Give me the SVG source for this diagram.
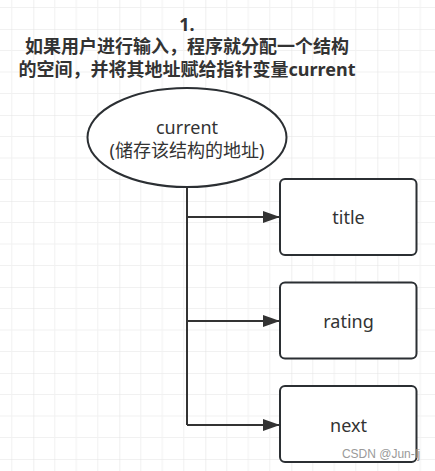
<svg xmlns="http://www.w3.org/2000/svg" width="435" height="471" viewBox="0 0 435 471">
<defs>
<pattern id="grid" patternUnits="userSpaceOnUse" x="33.3" y="29" width="86" height="86">
<path d="M21.5 0V86M43 0V86M64.5 0V86M0 21.5H86M0 43H86M0 64.5H86" stroke="#f1f1f1" stroke-width="1" fill="none"/>
<path d="M0 0V86M0 0H86" stroke="#e4e4e4" stroke-width="1.2" fill="none"/>
</pattern>
<marker id="arr" markerWidth="18" markerHeight="12" refX="17" refY="6" orient="auto" markerUnits="userSpaceOnUse">
<path d="M0 0L17 6L0 12Z" fill="#333"/>
</marker>
</defs>
<style>
.node{fill:#fff;stroke:#2b2f33;stroke-width:2}
.lbl{font-family:"Noto Sans","Noto Sans CJK SC",sans-serif;font-size:18px;fill:#333;text-anchor:middle}
.head{font-family:"Noto Sans","Noto Sans CJK SC",sans-serif;font-size:18px;font-weight:bold;fill:#333;text-anchor:middle}
.edge{fill:none;stroke:#333;stroke-width:2}
</style>
<rect width="435" height="471" fill="#fff"/>
<rect width="435" height="471" fill="url(#grid)"/>
<g id="heading">
<text class="head" x="187" y="31">1.</text>
<text class="head" x="187" y="53">如果用户进行输入，程序就分配一个结构</text>
<text class="head" x="187" y="76">的空间，并将其地址赋给指针变量current</text>
</g>
<g id="connectors">
<path class="edge" d="M187 187V425"/>
<path class="edge" d="M187 217H280" marker-end="url(#arr)"/>
<path class="edge" d="M187 321H280" marker-end="url(#arr)"/>
<path class="edge" d="M187 425H280" marker-end="url(#arr)"/>
</g>
<g id="current">
<ellipse class="node" cx="187" cy="137.5" rx="99.5" ry="49.5"/>
<text class="lbl" x="187" y="134">current</text>
<text class="lbl" x="187" y="157">(储存该结构的地址)</text>
</g>
<g id="title">
<rect class="node" x="280" y="179" width="136.5" height="76" rx="5"/>
<text class="lbl" x="348.5" y="224">title</text>
</g>
<g id="rating">
<rect class="node" x="280" y="282.5" width="136.5" height="76" rx="5"/>
<text class="lbl" x="348.5" y="328">rating</text>
</g>
<g id="next">
<rect class="node" x="280" y="386" width="136.5" height="76" rx="5"/>
<text class="lbl" x="348.5" y="432">next</text>
</g>
<text x="381" y="458" font-family="Liberation Sans,Arial,sans-serif" font-size="12" fill="#9a9a9a" text-anchor="middle">CSDN @Jun-lj</text>
</svg>
